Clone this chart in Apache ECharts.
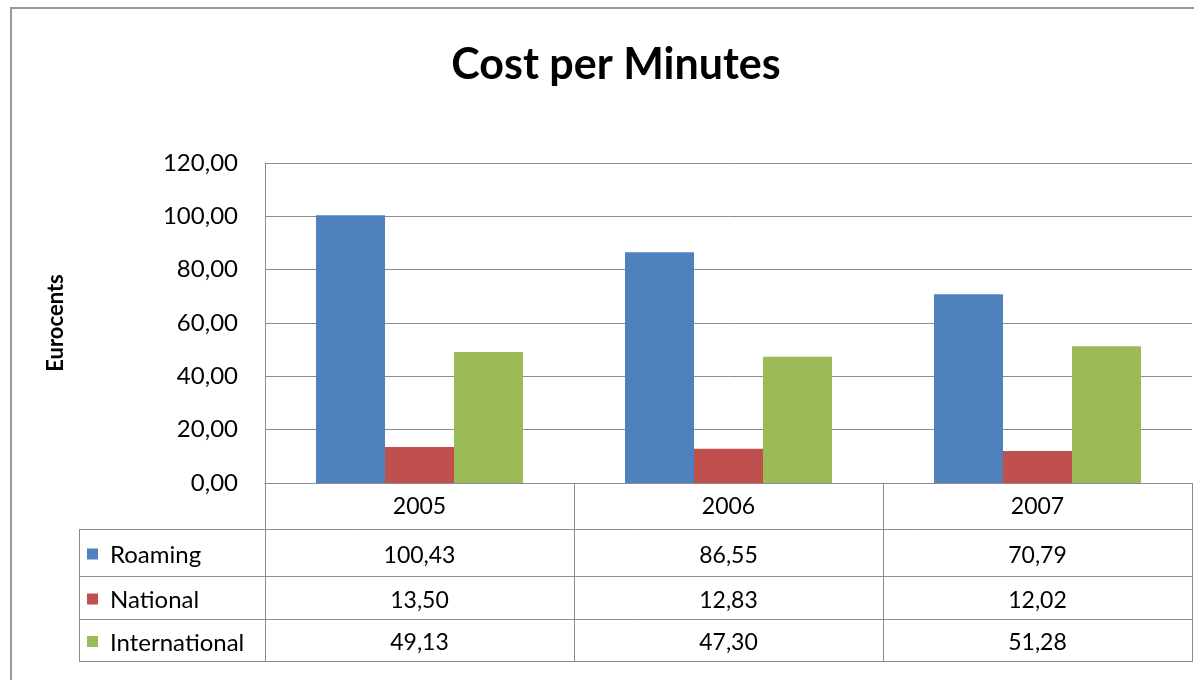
<!DOCTYPE html>
<html>
<head>
<meta charset="utf-8">
<title>Cost per Minutes</title>
<script src="https://cdn.jsdelivr.net/npm/echarts@6/dist/echarts.min.js"></script>
<style>
  html, body { margin: 0; padding: 0; background: #fff; }
  #chart { width: 1194px; height: 680px; }
</style>
</head>
<body>
<div id="chart"></div>
<script>
// data
var years = ["2005", "2006", "2007"];
var seriesNames = ["Roaming", "National", "International"];
var roaming = [100.43, 86.55, 70.79];
var national = [13.50, 12.83, 12.02];
var international = [49.13, 47.30, 51.28];
var colors = ["#4F81BD", "#C0504D", "#9BBB59"];

var FONT = "Lato, 'Open Sans', sans-serif";
var LINE = "#8c8c8c";

function comma(v) {
  return v.toFixed(2).replace(".", ",");
}

var myChart = echarts.init(document.getElementById("chart"));

var values = [roaming, national, international];
var series = seriesNames.map(function (name, i) {
  return {
    name: name,
    type: "bar",
    data: values[i],
    barGap: 0,
    barCategoryGap: "33%",
    itemStyle: { color: colors[i] },
    silent: true
  };
});

myChart.setOption({
  animation: false,
  title: {
    text: "Cost per Minutes",
    left: 611,
    top: 39,
    textAlign: "center",
    textStyle: { fontFamily: FONT, fontSize: 43, fontWeight: "bold", color: "#000" }
  },
  grid: { left: 265, right: 2, top: 163, bottom: 197 },
  xAxis: {
    type: "category",
    data: years,
    axisLine: { show: true, lineStyle: { color: LINE, width: 1 } },
    axisTick: { show: false },
    axisLabel: { show: false },
    splitLine: { show: false }
  },
  yAxis: {
    type: "value",
    min: 0,
    max: 120,
    interval: 20,
    name: "Eurocents",
    nameLocation: "middle",
    nameGap: 198,
    nameRotate: 90,
    nameTextStyle: { fontFamily: FONT, fontSize: 22, fontWeight: "bold", color: "#000" },
    axisLine: { show: true, lineStyle: { color: LINE, width: 1 } },
    axisTick: { show: false },
    axisLabel: {
      margin: 27,
      fontFamily: FONT,
      fontSize: 24,
      color: "#000",
      formatter: function (v) { return comma(v); }
    },
    splitLine: { lineStyle: { color: LINE, width: 1 } }
  },
  series: series
});

// data table under the plot, laid out from the axis scale
var rowLines = [483, 529, 576, 619, 661];
var tableLeft = 79;
var plotLeft = 265;
var plotRight = 1192;
var g = [];

// outer chart border
g.push({
  type: "rect",
  shape: { x: 11, y: 8, width: 1400, height: 900 },
  style: { fill: "none", stroke: "#999", lineWidth: 2 },
  silent: true
});

// horizontal lines
rowLines.forEach(function (y, i) {
  g.push({
    type: "line",
    shape: { x1: i === 0 ? plotLeft : tableLeft, y1: y + 0.5, x2: plotRight, y2: y + 0.5 },
    style: { stroke: LINE, lineWidth: 1 },
    silent: true
  });
});

// vertical lines: label column and year columns
var half = (myChart.convertToPixel({ xAxisIndex: 0 }, 1) - myChart.convertToPixel({ xAxisIndex: 0 }, 0)) / 2;
var colX = [plotLeft];
years.forEach(function (y, i) {
  colX.push(Math.round(myChart.convertToPixel({ xAxisIndex: 0 }, i) + half));
});
g.push({
  type: "line",
  shape: { x1: tableLeft + 0.5, y1: rowLines[1], x2: tableLeft + 0.5, y2: rowLines[4] + 1 },
  style: { stroke: LINE, lineWidth: 1 },
  silent: true
});
colX.forEach(function (x) {
  g.push({
    type: "line",
    shape: { x1: x + 0.5, y1: rowLines[0], x2: x + 0.5, y2: rowLines[4] + 1 },
    style: { stroke: LINE, lineWidth: 1 },
    silent: true
  });
});

function cellText(txt, x, y, align, size) {
  return {
    type: "text",
    x: x,
    y: y,
    style: {
      text: txt,
      fill: "#000",
      fontFamily: FONT,
      fontSize: size || 23,
      align: align,
      verticalAlign: "middle",
      textAlign: align,
      textVerticalAlign: "middle"
    },
    silent: true
  };
}

// header row: years
years.forEach(function (y, i) {
  var cx = myChart.convertToPixel({ xAxisIndex: 0 }, i);
  g.push(cellText(y, cx, (rowLines[0] + rowLines[1]) / 2 + 1, "center"));
});

// value rows with legend swatches
seriesNames.forEach(function (name, r) {
  var cy = (rowLines[r + 1] + rowLines[r + 2]) / 2 + 3;
  g.push({
    type: "rect",
    shape: { x: 87, y: cy - 7, width: 11, height: 11 },
    style: { fill: colors[r] },
    silent: true
  });
  g.push(cellText(name, 110, cy, "left", 24));
  values[r].forEach(function (v, i) {
    var cx = myChart.convertToPixel({ xAxisIndex: 0 }, i);
    g.push(cellText(comma(v), cx, cy, "center"));
  });
});

myChart.setOption({ graphic: g });
</script>
</body>
</html>
